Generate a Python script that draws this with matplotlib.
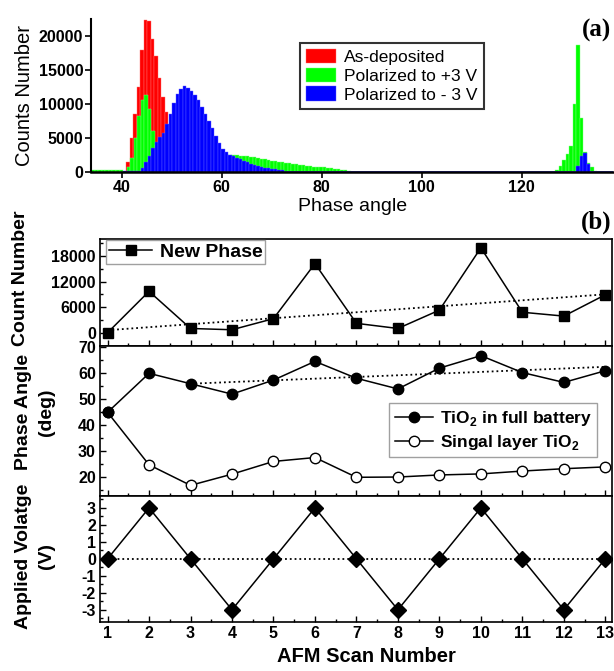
import matplotlib
matplotlib.use('Agg')
import matplotlib.pyplot as plt
import numpy as np
from matplotlib.ticker import MultipleLocator

plt.rcParams['font.family'] = 'Liberation Sans'
plt.rcParams['mathtext.fontset'] = 'custom'
plt.rcParams['mathtext.bf'] = 'Liberation Sans:bold'
plt.rcParams['mathtext.rm'] = 'Liberation Sans:bold'
plt.rcParams['axes.unicode_minus'] = False

# ---- (a) phase angle histograms, bin width 0.7 deg ----
bin_w = 0.7

red_start = 40.9
red_counts = [1500, 5000, 8500, 12500, 18000, 22400, 22200, 19500, 17000, 13800,
              11000, 8800, 6800, 5000, 3500, 2000]

green_start = 34.0
green_counts = [350, 350, 350, 350, 350, 350, 350, 350, 300, 0,
                700, 2000, 5000, 8300, 10600, 11300, 9200, 6000, 4000, 3500,
                3300, 3200, 3100, 3000, 3000, 2950, 2900, 2900, 2850, 2850,
                2800, 2800, 2750, 2750, 2700, 2700, 2650, 2650, 2600, 2550,
                2500, 2450, 2400, 2350, 2300, 2250, 2150, 2050, 1950, 1850,
                1760, 1680, 1600, 1520, 1440, 1360, 1280, 1200, 1130, 1060,
                1000, 940, 880, 800, 760, 720, 660, 600, 540, 480,
                420, 360, 300, 200]
green2_start = 126.7
green2_counts = [300, 900, 1800, 2600, 3800, 10000, 18700, 8000, 3000, 1300, 700, 200]

blue_start = 40.3
blue_counts = [150, 150, 150, 150, 200, 600, 1400, 2400, 3500, 4400,
               5100, 5700, 7100, 8600, 10100, 11400, 12250, 12650, 12400, 11900,
               11350, 10650, 9600, 8600, 7500, 6400, 5300, 4300, 3400, 2900,
               2550, 2300, 2100, 1850, 1600, 1400, 1200, 1050, 900, 780,
               650, 550, 450, 370, 300, 250]
blue_tail = (72.5, 138.5, 200)   # from, to, level
blue2_start = 130.9
blue2_counts = [900, 2300, 2850, 1200]

# ---- (b) AFM scans ----
scan = [1, 2, 3, 4, 5, 6, 7, 8, 9, 10, 11, 12, 13]
new_phase = [0, 9700, 1000, 700, 3300, 16200, 2200, 1000, 5300, 19900, 4800, 3900, 8900]
count_trend_x = [1, 13]
count_trend_y = [600, 9000]

full_battery = [45, 60, 56, 52, 57.4, 64.6, 58.1, 54, 62, 66.8, 60.3, 56.5, 61]
single_layer = [45, 24.8, 16.9, 21.2, 26.1, 27.6, 20, 20.1, 20.9, 21.3, 22.4, 23.3, 24]
phase_trend_x = [3, 13]
phase_trend_y = [56, 62.5]

voltage = [0, 3, 0, -3, 0, 3, 0, -3, 0, 3, 0, -3, 0]
zero_x = [1, 13]
zero_y = [0, 0]

fig = plt.figure(figsize=(6.14, 6.71), dpi=100)


def hist(ax, start, counts, color, edge, label=None):
    left = start + bin_w * np.arange(len(counts))
    return ax.bar(left, counts, width=bin_w, align='edge', color=color,
                  edgecolor=edge, linewidth=0.3, label=label)


axh = fig.add_axes([0.149, 0.7437, 0.849, 0.228])
hr = hist(axh, red_start, red_counts, '#ff0000', '#ff7070', 'As-deposited')
hg = hist(axh, green_start, green_counts, '#00ff00', '#80ff80', 'Polarized to +3 V')
hist(axh, green2_start, green2_counts, '#00ff00', '#80ff80')
hb = hist(axh, blue_start, blue_counts, '#0000ff', '#6060ff', 'Polarized to - 3 V')
axh.bar(blue_tail[0], blue_tail[2], width=blue_tail[1] - blue_tail[0], align='edge',
        color='#5050ff', linewidth=0)
hist(axh, blue2_start, blue2_counts, '#0000ff', '#6060ff')

axh.set_xlim(34, 138.2)
axh.set_ylim(0, 22500)
axh.set_xticks([40, 60, 80, 100, 120])
axh.set_yticks([0, 5000, 10000, 15000, 20000])
axh.spines['top'].set_visible(False)
axh.spines['right'].set_visible(False)
axh.spines['bottom'].set_linewidth(1.8)
axh.spines['left'].set_linewidth(1.5)
axh.tick_params(direction='out', length=4, width=1.2, labelsize=11.5, pad=2)
for t in axh.get_xticklabels() + axh.get_yticklabels():
    t.set_fontweight('bold')
axh.set_xlabel('Phase angle', fontsize=14, labelpad=2)
axh.set_ylabel('Counts Number', fontsize=14.5)
axh.yaxis.set_label_coords(-0.111, 0.5)
leg = axh.legend(handles=[hr, hg, hb], loc='upper left', bbox_to_anchor=(0.40, 0.845),
                 fontsize=12.5, frameon=True, fancybox=False, edgecolor='black',
                 handlelength=1.7, handleheight=0.9, labelspacing=0.15,
                 borderpad=0.35, handletextpad=0.5, borderaxespad=0)
leg.get_frame().set_linewidth(1.5)

fig.text(0.971, 0.955, '(a)', fontsize=18, family='Liberation Serif',
         fontweight='bold', ha='center', va='center')
fig.text(0.971, 0.669, '(b)', fontsize=18, family='Liberation Serif',
         fontweight='bold', ha='center', va='center')

ax1 = fig.add_axes([0.163, 0.4844, 0.833, 0.159])
ax2 = fig.add_axes([0.163, 0.2608, 0.833, 0.2235])
ax3 = fig.add_axes([0.163, 0.0735, 0.833, 0.1873])

ax1.plot(scan, new_phase, '-s', color='black', ms=7, lw=1.1, label='New Phase')
ax1.plot(count_trend_x, count_trend_y, ':', color='black', lw=1.3)
ax1.set_ylim(-3100, 21900)
ax1.set_yticks([0, 6000, 12000, 18000])
ax1.yaxis.set_minor_locator(MultipleLocator(3000))
ax1.legend(loc='upper left', bbox_to_anchor=(0.012, 0.99), borderaxespad=0,
           prop={'weight': 'bold', 'size': 14}, fancybox=False, edgecolor='#888888',
           handlelength=2.2, borderpad=0.15, handletextpad=0.4)

s_line, = ax2.plot(scan, single_layer, '-o', color='black', mfc='white', ms=7.5, lw=1.1,
                   label=r'Singal layer TiO$_\mathbf{2}$')
f_line, = ax2.plot(scan, full_battery, '-o', color='black', ms=7.5, lw=1.1,
                   label=r'TiO$_\mathbf{2}$ in full battery')
ax2.plot(phase_trend_x, phase_trend_y, ':', color='black', lw=1.3)
ax2.set_ylim(12.8, 70.5)
ax2.set_yticks([20, 30, 40, 50, 60, 70])
ax2.yaxis.set_minor_locator(MultipleLocator(5))
ax2.legend(handles=[f_line, s_line], loc='lower right', bbox_to_anchor=(0.972, 0.26),
           borderaxespad=0, prop={'weight': 'bold', 'size': 12.5}, fancybox=False,
           edgecolor='#888888', handlelength=2.2, borderpad=0.3, handletextpad=0.4,
           labelspacing=0.3)

ax3.plot(scan, voltage, '-D', color='black', ms=8, lw=1.1)
ax3.plot(zero_x, zero_y, ':', color='black', lw=1.3)
ax3.set_ylim(-3.7, 3.7)
ax3.set_yticks([-3, -2, -1, 0, 1, 2, 3])
ax3.yaxis.set_minor_locator(MultipleLocator(0.5))

for ax in (ax1, ax2, ax3):
    ax.set_xlim(0.82, 13.15)
    ax.set_xticks(scan)
    ax.xaxis.set_minor_locator(MultipleLocator(0.5))
    ax.tick_params(which='both', direction='in', top=False, right=False,
                   labelsize=11.5, width=1, pad=3)
    ax.tick_params(which='major', length=4)
    ax.tick_params(which='minor', length=2.5)
    for s in ax.spines.values():
        s.set_linewidth(1.2)
    for t in ax.get_xticklabels() + ax.get_yticklabels():
        t.set_fontweight('bold')
ax1.tick_params(labelbottom=False)
ax2.tick_params(labelbottom=False)
ax3.set_xlabel('AFM Scan Number', fontsize=14.5, fontweight='bold')
ax3.xaxis.set_label_coords(0.52, -0.2)

fig.text(0.0326, 0.5857, 'Count Number', rotation=90, fontsize=14, fontweight='bold',
         ha='center', va='center')
fig.text(0.057, 0.386, 'Phase Angle\n(deg)', rotation=90, fontsize=14, fontweight='bold',
         ha='center', va='center', multialignment='center', linespacing=1.45)
fig.text(0.057, 0.1714, 'Applied Volatge\n(V)', rotation=90, fontsize=14, fontweight='bold',
         ha='center', va='center', multialignment='center', linespacing=1.45)

fig.savefig('out.png', dpi=100)
